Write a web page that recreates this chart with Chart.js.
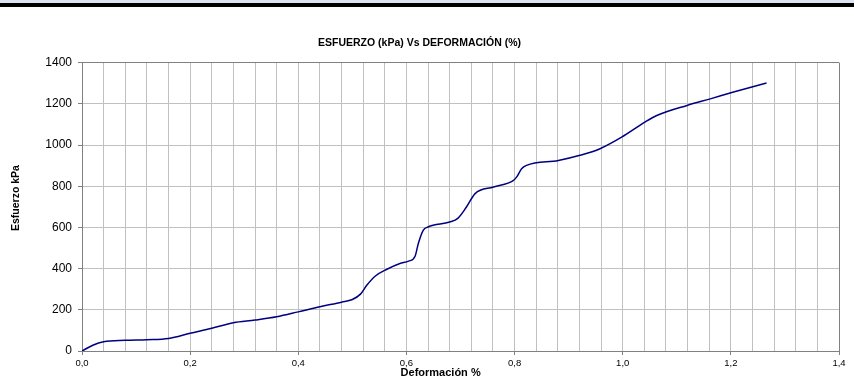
<!DOCTYPE html>
<html>
<head>
<meta charset="utf-8">
<script src="https://cdn.jsdelivr.net/npm/chart.js@4"></script>
<style>
  html, body { margin: 0; padding: 0; background: #fff; }
  #wrap { position: relative; width: 854px; height: 383px; }
  #band { position: absolute; left: 0; top: 0; width: 854px; height: 3px; background: #dce6f2; }
  #bar { position: absolute; left: 0; top: 3px; width: 854px; height: 4px; background: #000; }
</style>
</head>
<body>
<div id="wrap">
  <canvas id="myChart" width="854" height="383"></canvas>
  <div id="band"></div>
  <div id="bar"></div>
</div>
<script>
// deformacion (%) y esfuerzo (kPa)
const deformacion = [0, 0.02, 0.04, 0.08, 0.12, 0.16, 0.2, 0.24, 0.28, 0.32, 0.36, 0.4, 0.44, 0.48, 0.5,
  0.515, 0.527, 0.542, 0.564, 0.588, 0.604, 0.616, 0.622, 0.631, 0.64, 0.68, 0.695, 0.711, 0.727, 0.761,
  0.798, 0.804, 0.813, 0.822, 0.881, 0.921, 0.958, 0.998, 1.041, 1.063, 1.119, 1.162, 1.205, 1.266];
const esfuerzo = [0, 28, 45, 52, 55, 61, 86, 110, 137, 150, 166, 190, 215, 237, 250,
  276, 320, 363, 397, 425, 436, 460, 522, 586, 602, 626, 644, 699, 764, 796,
  828, 845, 885, 901, 925, 950, 982, 1038, 1111, 1143, 1192, 1224, 1257, 1301];

const xMax = 1.4;
const yMax = 1400;

const puntos = deformacion.map((d, i) => ({ x: d, y: esfuerzo[i] }));

const esMayor = v => Math.abs(v / 0.2 - Math.round(v / 0.2)) < 1e-6;

const ctx = document.getElementById('myChart');

new Chart(ctx, {
  type: 'scatter',
  data: {
    datasets: [{
      label: 'Esfuerzo',
      data: puntos,
      showLine: true,
      borderColor: '#000080',
      borderWidth: 1.5,
      pointRadius: 0,
      cubicInterpolationMode: 'monotone',
      fill: false
    }]
  },
  options: {
    responsive: false,
    animation: false,
    layout: { padding: { left: 0, right: 15, top: 0, bottom: 0 } },
    plugins: {
      legend: { display: false },
      tooltip: { enabled: false },
      title: {
        display: true,
        text: 'ESFUERZO (kPa) Vs DEFORMACIÓN (%)',
        color: '#000',
        font: { family: 'Liberation Sans', size: 10.5, weight: 'bold', lineHeight: 1.2 },
        padding: { top: 37, bottom: 13 }
      }
    },
    scales: {
      x: {
        type: 'linear',
        min: 0,
        max: xMax,
        afterFit: s => { s.height = 32; },
        border: { color: '#808080', width: 1 },
        grid: {
          color: c => (c.index === 35 ? '#808080' : '#c0c0c0'),
          tickLength: 4,
          tickColor: c => (c.tick && esMayor(c.tick.value) ? '#808080' : 'rgba(0,0,0,0)')
        },
        ticks: {
          stepSize: 0.04,
          maxTicksLimit: 100,
          autoSkip: false,
          maxRotation: 0,
          padding: 3,
          color: '#000',
          font: { family: 'Liberation Sans', size: 9.5 },
          callback: v => (esMayor(v) ? v.toFixed(1).replace('.', ',') : '')
        },
        title: {
          display: true,
          text: 'Deformación %' + ' '.repeat(13),
          color: '#000',
          font: { family: 'Liberation Sans', size: 11, weight: 'bold', lineHeight: 1.2 },
          padding: { top: 0, bottom: 3 }
        }
      },
      y: {
        min: 0,
        max: yMax,
        afterFit: s => { s.width = 82; },
        border: { color: '#808080', width: 1 },
        grid: {
          color: c => (c.index === 7 ? '#808080' : '#c0c0c0'),
          tickLength: 4,
          tickColor: '#808080'
        },
        ticks: {
          stepSize: 200,
          padding: 6,
          color: '#000',
          font: { family: 'Liberation Sans', size: 12 },
          callback: v => String(v)
        },
        title: {
          display: true,
          text: ' '.repeat(6) + 'Esfuerzo kPa',
          color: '#000',
          font: { family: 'Liberation Sans', size: 10.5, weight: 'bold', lineHeight: 1.2 },
          padding: { top: 10, bottom: 0 }
        }
      }
    }
  }
});
</script>
</body>
</html>
